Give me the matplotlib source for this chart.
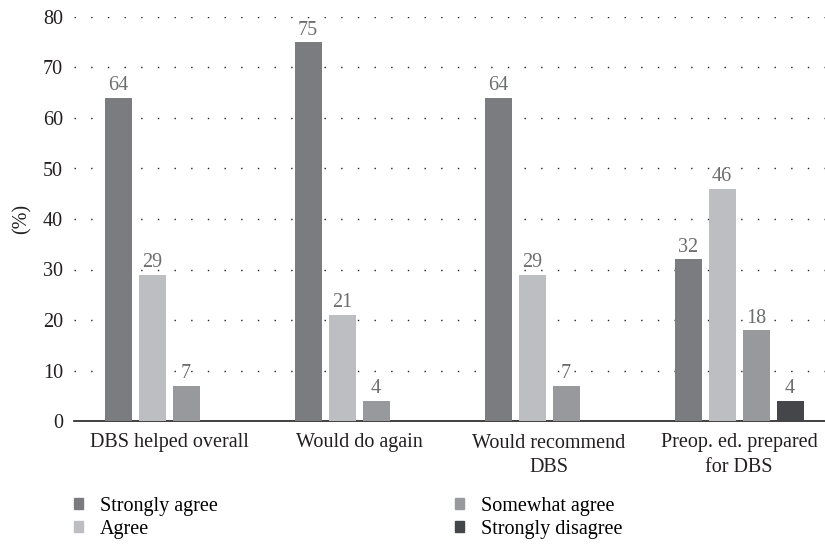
import numpy as np
import matplotlib.pyplot as plt
from matplotlib.patches import Patch

plt.rcParams['font.family'] = ['Liberation Serif', 'DejaVu Serif']

categories = ['DBS helped overall', 'Would do again', 'Would recommend\nDBS', 'Preop. ed. prepared\nfor DBS']
series = ['Strongly agree', 'Agree', 'Somewhat agree', 'Strongly disagree']
values = {
    'Strongly agree':    [64, 75, 64, 32],
    'Agree':             [29, 21, 29, 46],
    'Somewhat agree':    [7, 4, 7, 18],
    'Strongly disagree': [None, None, None, 4],
}
colors = ['#7b7c80', '#bdbec2', '#98999d', '#454649']

fs = 14.5
fig = plt.figure(figsize=(8.25, 5.46), dpi=100)
ax = fig.add_axes([74/825, 1 - 421/546, 1 - 74/825, (421 - 17)/546])

step = 34/190
width = 27/190
x = np.arange(len(categories))

for j, name in enumerate(series):
    off = (j - 1.5) * step
    for i, v in enumerate(values[name]):
        if v is None:
            continue
        ax.bar(x[i] + off, v, width=width, color=colors[j], zorder=3)
        ax.text(x[i] + off, v + 0.5, str(v), ha='center', va='bottom',
                color='#6d6e70', fontsize=fs, zorder=4)

ax.set_xlim(-0.5, (825 - 169)/190)
ax.set_ylim(0, 80)
ax.set_yticks(range(0, 81, 10))
ax.set_xticks(x)
ax.set_xticklabels(categories, fontsize=fs, linespacing=1.4)
ax.tick_params(axis='both', length=0, labelsize=fs, colors='#231f20')
ax.tick_params(axis='x', pad=9)
ax.tick_params(axis='y', pad=8)
for y in range(10, 81, 10):
    ax.axhline(y, color='#231f20', linestyle=(0, (1, 11)), linewidth=1.0, zorder=1)
for s in ['top', 'right', 'left']:
    ax.spines[s].set_visible(False)
ax.spines['bottom'].set_color('#231f20')
ax.spines['bottom'].set_linewidth(1.2)
ax.set_ylabel('(%)', fontsize=fs, color='#231f20', labelpad=8)

handles = [Patch(color=c) for c in colors]
for col, x0 in enumerate([74, 455]):
    leg = fig.legend(handles[2*col:2*col + 2], series[2*col:2*col + 2], loc='upper left',
                     bbox_to_anchor=(x0/825, 1 - 497/546), frameon=False, fontsize=fs,
                     handlelength=0.45, handleheight=0.45, handletextpad=0.85,
                     labelspacing=0.2, borderpad=0, borderaxespad=0)

fig.savefig('out.png', dpi=100)
